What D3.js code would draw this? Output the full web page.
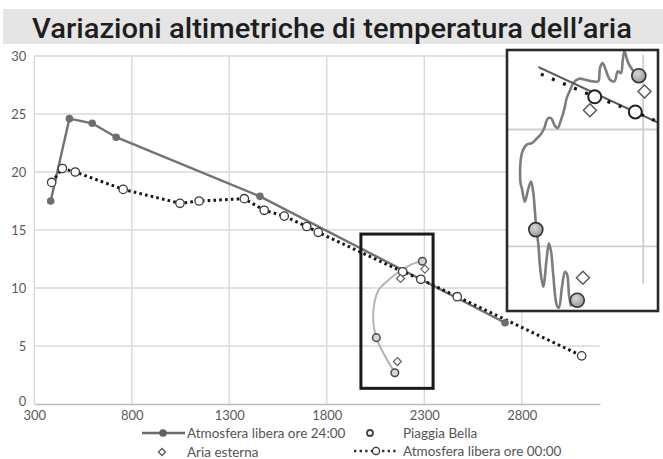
<!DOCTYPE html>
<html>
<head>
<meta charset="utf-8">
<script src="https://cdn.jsdelivr.net/npm/d3@7"></script>
<style>
  body { margin: 0; background: #fff; }
  svg { display: block; }
  .tick-label { font-family: Lato, "Noto Sans", sans-serif; font-size: 13px; fill: #5a5a5a; }
  .legend-text { font-family: Lato, "Noto Sans", sans-serif; font-size: 13.5px; fill: #555; }
</style>
</head>
<body>
<div id="chart"></div>
<script>
// Atmosfera libera ore 24:00 (quota m, temperatura °C)
const quoteOre24 = [384, 480, 597, 720, 1457, 2714];
const tempOre24 = [17.5, 24.6, 24.2, 23.0, 17.9, 7.0];

// Atmosfera libera ore 00:00
const quoteOre00 = [389, 444, 510, 756, 1047, 1145, 1377, 1479, 1582, 1697, 1756, 2189, 2282, 2469, 3107];
const tempOre00 = [19.1, 20.3, 20.0, 18.5, 17.3, 17.5, 17.7, 16.7, 16.2, 15.3, 14.8, 11.4, 10.75, 9.25, 4.15];

// Piaggia Bella / Aria esterna
const quotePiaggia = [2290, 2054, 2149];
const tempPiaggia = [12.3, 5.72, 2.7];
const quoteEsterna = [2303, 2178, 2162];
const tempEsterna = [11.63, 10.82, 3.66];

// curva grigia che collega i punti di Piaggia Bella
const curvaQuote = [2149, 2054, 2038, 2065, 2124, 2184, 2244, 2290];
const curvaTemp = [2.7, 5.72, 7.8, 9.8, 10.8, 11.55, 12.1, 12.3];

// traccia dettagliata (riquadro ingrandito)
const tracciaQuote = [2289, 2278, 2266, 2257, 2253, 2249, 2242, 2234, 2224, 2214, 2207, 2201, 2197, 2184, 2167, 2153, 2140, 2133, 2125, 2119, 2112, 2104, 2097, 2089, 2081, 2074, 2066, 2056, 2045, 2033, 2025, 2020, 2018, 2019, 2022, 2029, 2036, 2043, 2048, 2052, 2055, 2060, 2064, 2071, 2079, 2084, 2089, 2094, 2102, 2107, 2114, 2121, 2126, 2130, 2135];
const tracciaTemp = [12.27, 12.49, 12.84, 13.35, 12.91, 12.41, 12.49, 12.06, 12.13, 12.56, 12.84, 12.63, 12.06, 12.06, 12.13, 12.17, 11.99, 11.70, 11.35, 10.85, 10.42, 10.06, 10.18, 10.49, 10.46, 10.09, 9.81, 9.61, 9.42, 9.35, 9.14, 8.78, 8.21, 7.71, 7.49, 6.91, 7.41, 7.77, 7.34, 6.49, 5.78, 5.06, 4.07, 3.28, 4.50, 5.14, 4.78, 3.78, 2.50, 2.38, 3.28, 3.92, 3.78, 2.93, 2.43];

// zona evidenziata (quote e temperature)
const zonaQuote = [1975, 2345];
const zonaTemp = [1.35, 14.65];
// zona mostrata nell'ingrandimento
const zoomQuote = [1988, 2334];
const zoomTemp = [2.24, 13.4];

const xTicks = [300, 800, 1300, 1800, 2300, 2800];
const yTicks = [0, 5, 10, 15, 20, 25, 30];
const legendLabels = ["Atmosfera libera ore 24:00", "Piaggia Bella", "Aria esterna", "Atmosfera libera ore 00:00"];
const title = "Variazioni altimetriche di temperatura dell\u2019aria";

const width = 663, height = 459;
const zip = (a, b) => a.map((v, i) => [v, b[i]]);

const svg = d3.select("#chart").append("svg")
    .attr("width", width)
    .attr("height", height);

const defs = svg.append("defs");
const grad = defs.append("radialGradient").attr("id", "pbFill")
    .attr("cx", "40%").attr("cy", "35%").attr("r", "65%");
grad.append("stop").attr("offset", "0%").attr("stop-color", "#d6d6d6");
grad.append("stop").attr("offset", "100%").attr("stop-color", "#9a9a9a");

// title band
svg.append("rect")
    .attr("x", 3).attr("y", 9)
    .attr("width", width - 3).attr("height", 35)
    .attr("fill", "#e5e5e5");
svg.append("text")
    .attr("x", 32).attr("y", 38)
    .attr("textLength", 600)
    .attr("lengthAdjust", "spacingAndGlyphs")
    .style("font-family", "Roboto, 'Noto Sans', sans-serif")
    .style("font-weight", 500)
    .style("font-size", "27px")
    .style("fill", "#1e1e1e")
    .text(title);

// scales
const x = d3.scaleLinear().domain([300, 3200]).range([34.3, 599.8]);
const y = d3.scaleLinear().domain([0, 30]).range([404, 56]);

// grid
const grid = svg.append("g");
grid.selectAll("line.h")
    .data(yTicks.filter(d => d > 0))
    .enter().append("line")
    .attr("x1", x(300)).attr("x2", x(3200))
    .attr("y1", d => y(d)).attr("y2", d => y(d))
    .attr("stroke", "#d9d9d9").attr("stroke-width", 1.4);
grid.selectAll("line.v")
    .data(xTicks)
    .enter().append("line")
    .attr("x1", d => x(d)).attr("x2", d => x(d))
    .attr("y1", y(30)).attr("y2", y(0))
    .attr("stroke", "#d9d9d9").attr("stroke-width", 1.4);

// axes
const xAxis = svg.append("g")
    .attr("transform", `translate(0, ${y(0)})`)
    .call(d3.axisBottom(x).tickValues(xTicks).tickFormat(d3.format("d")).tickSize(0).tickPadding(7));
xAxis.select(".domain").attr("stroke", "#bdbdbd").attr("stroke-width", 1.6);
xAxis.selectAll("text").attr("class", "tick-label");

const yAxis = svg.append("g")
    .attr("transform", `translate(${x(300) - 8}, 0)`)
    .call(d3.axisLeft(y).tickValues(yTicks).tickSize(0).tickPadding(0));
yAxis.select(".domain").remove();
yAxis.selectAll("text").attr("class", "tick-label")
    .attr("dy", d => d === 0 ? "0.1em" : "0.32em");

// series lines
const line = d3.line().x(d => x(d[0])).y(d => y(d[1]));

svg.append("path")
    .datum(zip(curvaQuote, curvaTemp))
    .attr("d", d3.line().x(d => x(d[0])).y(d => y(d[1])).curve(d3.curveCatmullRom))
    .attr("fill", "none").attr("stroke", "#b4b4b4").attr("stroke-width", 2);

svg.append("path")
    .datum(zip(quoteOre24, tempOre24))
    .attr("d", line)
    .attr("fill", "none").attr("stroke", "#727272").attr("stroke-width", 2.4);

svg.append("path")
    .datum(zip(quoteOre00, tempOre00))
    .attr("d", line)
    .attr("fill", "none").attr("stroke", "#161616").attr("stroke-width", 3)
    .attr("stroke-dasharray", "2.6 3.2");

svg.selectAll("circle.p24")
    .data(zip(quoteOre24, tempOre24))
    .enter().append("circle")
    .attr("cx", d => x(d[0])).attr("cy", d => y(d[1])).attr("r", 3.8)
    .attr("fill", "#6e6e6e");

svg.selectAll("circle.p00")
    .data(zip(quoteOre00, tempOre00))
    .enter().append("circle")
    .attr("cx", d => x(d[0])).attr("cy", d => y(d[1])).attr("r", 4.2)
    .attr("fill", "#fff").attr("stroke", "#3a3a3a").attr("stroke-width", 1.3);

svg.selectAll("circle.pb")
    .data(zip(quotePiaggia, tempPiaggia))
    .enter().append("circle")
    .attr("cx", d => x(d[0])).attr("cy", d => y(d[1])).attr("r", 3.8)
    .attr("fill", "#d5d5d5").attr("stroke", "#4a4a4a").attr("stroke-width", 1.5);

const diamond = s => `M0,${-s}L${s},0L0,${s}L${-s},0Z`;
svg.selectAll("path.ae")
    .data(zip(quoteEsterna, tempEsterna))
    .enter().append("path")
    .attr("transform", d => `translate(${x(d[0])},${y(d[1])})`)
    .attr("d", diamond(4))
    .attr("fill", "#fff").attr("stroke", "#666").attr("stroke-width", 1.2);

// highlighted zone
svg.append("rect")
    .attr("x", x(zonaQuote[0])).attr("y", y(zonaTemp[1]))
    .attr("width", x(zonaQuote[1]) - x(zonaQuote[0]))
    .attr("height", y(zonaTemp[0]) - y(zonaTemp[1]))
    .attr("fill", "none").attr("stroke", "#1a1a1a").attr("stroke-width", 3);

// inset (zoom)
const xIn = d3.scaleLinear().domain(zoomQuote).range([507, 658]);
const yIn = d3.scaleLinear().domain(zoomTemp).range([311, 50]);
const lineIn = d3.line().x(d => xIn(d[0])).y(d => yIn(d[1]));

defs.append("clipPath").attr("id", "insetClip")
    .append("rect")
    .attr("x", xIn(zoomQuote[0])).attr("y", yIn(zoomTemp[1]))
    .attr("width", xIn(zoomQuote[1]) - xIn(zoomQuote[0]))
    .attr("height", yIn(zoomTemp[0]) - yIn(zoomTemp[1]));
defs.append("clipPath").attr("id", "insetLineClip")
    .append("rect")
    .attr("x", xIn(2060)).attr("y", yIn(zoomTemp[1]))
    .attr("width", xIn(zoomQuote[1]) - xIn(2060))
    .attr("height", yIn(zoomTemp[0]) - yIn(zoomTemp[1]));

svg.append("rect")
    .attr("x", xIn(zoomQuote[0])).attr("y", yIn(zoomTemp[1]))
    .attr("width", xIn(zoomQuote[1]) - xIn(zoomQuote[0]))
    .attr("height", yIn(zoomTemp[0]) - yIn(zoomTemp[1]))
    .attr("fill", "#fff");

const inset = svg.append("g").attr("clip-path", "url(#insetClip)");

inset.selectAll("line.ih")
    .data([5, 10])
    .enter().append("line")
    .attr("x1", xIn(zoomQuote[0])).attr("x2", xIn(zoomQuote[1]))
    .attr("y1", d => yIn(d)).attr("y2", d => yIn(d))
    .attr("stroke", "#cfcfcf").attr("stroke-width", 1.8);
inset.append("line")
    .attr("x1", xIn(2300)).attr("x2", xIn(2300))
    .attr("y1", yIn(13.2)).attr("y2", yIn(3.4))
    .attr("stroke", "#cfcfcf").attr("stroke-width", 1.8);

inset.append("path")
    .datum(zip(tracciaQuote, tracciaTemp))
    .attr("d", d3.line().x(d => xIn(d[0])).y(d => yIn(d[1])).curve(d3.curveCatmullRom))
    .attr("fill", "none").attr("stroke", "#7d7d7d").attr("stroke-width", 2.6);

const insetLines = inset.append("g").attr("clip-path", "url(#insetLineClip)");
insetLines.append("path")
    .datum(zip(quoteOre24, tempOre24))
    .attr("d", lineIn)
    .attr("fill", "none").attr("stroke", "#5a5a5a").attr("stroke-width", 2);
insetLines.append("path")
    .datum(zip(quoteOre00, tempOre00))
    .attr("d", lineIn)
    .attr("fill", "none").attr("stroke", "#111").attr("stroke-width", 3.2)
    .attr("stroke-dasharray", "3 9");

inset.selectAll("circle.i00")
    .data(zip(quoteOre00, tempOre00))
    .enter().append("circle")
    .attr("cx", d => xIn(d[0])).attr("cy", d => yIn(d[1])).attr("r", 6.5)
    .attr("fill", "#fff").attr("stroke", "#222").attr("stroke-width", 2);

inset.selectAll("path.iae")
    .data(zip(quoteEsterna, tempEsterna))
    .enter().append("path")
    .attr("transform", d => `translate(${xIn(d[0])},${yIn(d[1])})`)
    .attr("d", diamond(6.5))
    .attr("fill", "#fff").attr("stroke", "#555").attr("stroke-width", 1.4);

inset.selectAll("circle.ipb")
    .data(zip(quotePiaggia, tempPiaggia))
    .enter().append("circle")
    .attr("cx", d => xIn(d[0])).attr("cy", d => yIn(d[1])).attr("r", 7)
    .attr("fill", "url(#pbFill)").attr("stroke", "#333").attr("stroke-width", 1.6);

svg.append("rect")
    .attr("x", xIn(zoomQuote[0])).attr("y", yIn(zoomTemp[1]))
    .attr("width", xIn(zoomQuote[1]) - xIn(zoomQuote[0]))
    .attr("height", yIn(zoomTemp[0]) - yIn(zoomTemp[1]))
    .attr("fill", "none").attr("stroke", "#2a2a2a").attr("stroke-width", 2.6);

// legend
const legend = svg.append("g");
const rows = [
    { label: legendLabels[0], sx: 163, sy: 433, tx: 187, kind: "solid" },
    { label: legendLabels[1], sx: 370, sy: 433, tx: 403, kind: "pb" },
    { label: legendLabels[2], sx: 162, sy: 452, tx: 187, kind: "diamond" },
    { label: legendLabels[3], sx: 376, sy: 451, tx: 403, kind: "dotted" }
];
rows.forEach(r => {
    const g = legend.append("g");
    if (r.kind === "solid") {
        g.append("line").attr("x1", r.sx - 21).attr("x2", r.sx + 22).attr("y1", r.sy).attr("y2", r.sy)
            .attr("stroke", "#6a6a6a").attr("stroke-width", 2.4);
        g.append("circle").attr("cx", r.sx).attr("cy", r.sy).attr("r", 3.8).attr("fill", "#5f5f5f");
    } else if (r.kind === "pb") {
        g.append("circle").attr("cx", r.sx).attr("cy", r.sy).attr("r", 3)
            .attr("fill", "#fff").attr("stroke", "#444").attr("stroke-width", 1.8);
    } else if (r.kind === "diamond") {
        g.append("path").attr("transform", `translate(${r.sx},${r.sy})`).attr("d", diamond(3.5))
            .attr("fill", "#fff").attr("stroke", "#555").attr("stroke-width", 1.3);
    } else {
        g.append("line").attr("x1", r.sx - 22).attr("x2", r.sx + 22).attr("y1", r.sy).attr("y2", r.sy)
            .attr("stroke", "#333").attr("stroke-width", 2.6).attr("stroke-dasharray", "2.4 3.2");
        g.append("circle").attr("cx", r.sx).attr("cy", r.sy).attr("r", 3.6)
            .attr("fill", "#fff").attr("stroke", "#333").attr("stroke-width", 1.3);
    }
    g.append("text").attr("class", "legend-text")
        .attr("x", r.tx).attr("y", r.sy).attr("dy", "0.35em")
        .text(r.label);
});
</script>
</body>
</html>
